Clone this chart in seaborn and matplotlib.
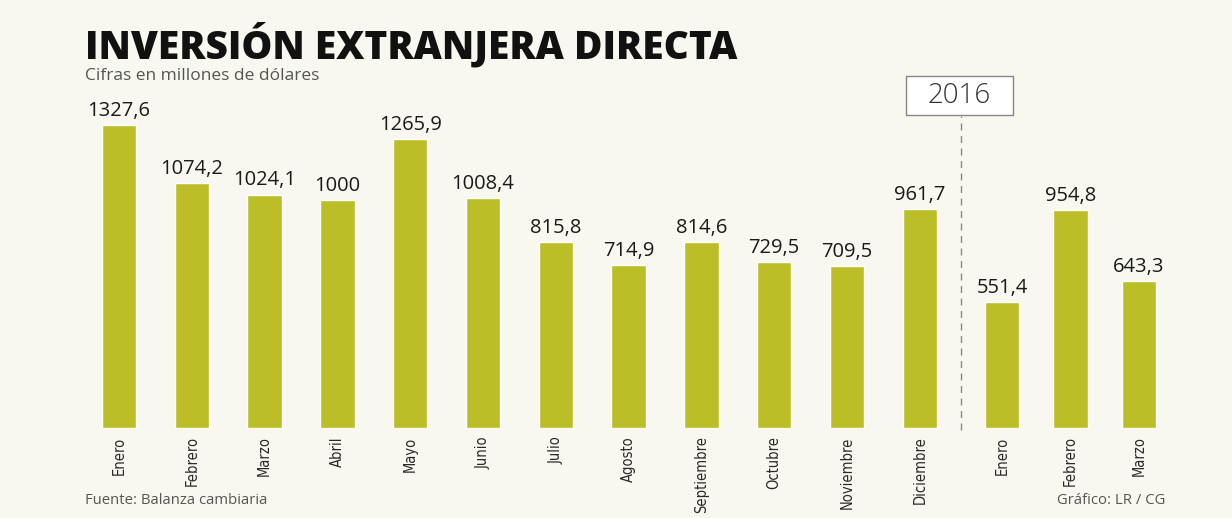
import numpy as np
import pandas as pd
import matplotlib
matplotlib.use("Agg")
import matplotlib.pyplot as plt
from matplotlib.patches import Rectangle
import seaborn as sns

# Data
meses = ["Enero", "Febrero", "Marzo", "Abril", "Mayo", "Junio", "Julio", "Agosto",
         "Septiembre", "Octubre", "Noviembre", "Diciembre", "Enero", "Febrero", "Marzo"]
valores = [1327.6, 1074.2, 1024.1, 1000, 1265.9, 1008.4, 815.8, 714.9,
           814.6, 729.5, 709.5, 961.7, 551.4, 954.8, 643.3]
etiquetas = ["1327,6", "1074,2", "1024,1", "1000", "1265,9", "1008,4", "815,8", "714,9",
             "814,6", "729,5", "709,5", "961,7", "551,4", "954,8", "643,3"]

bg = "#f8f8f0"
bar_color = "#bcbe28"

sns.set_style("white")
plt.rcParams["font.family"] = ["Open Sans", "DejaVu Sans"]

# positions: 2015 months, then a small gap before 2016
pos = np.r_[np.arange(12), 12.13 + np.arange(3) * 0.94]
df = pd.DataFrame({"pos": pos, "valor": valores})

fig = plt.figure(figsize=(12.32, 5.18), dpi=100, facecolor=bg)
ax = fig.add_axes([0, 90 / 518, 1, 428 / 518])
ax.set_facecolor(bg)

sns.barplot(data=df, x="pos", y="valor", native_scale=True, color=bar_color,
            width=0.5, saturation=1, ax=ax)

ax.set_xlim(-119 / 72.8, (1232 - 119) / 72.8)
ax.set_ylim(0, 428 / 0.228)
sns.despine(ax=ax, left=True, bottom=True)
ax.set_yticks([])
ax.set_xlabel("")
ax.set_ylabel("")

ax.set_xticks(pos)
ax.set_xticklabels(meses, rotation=90, fontsize=10.5, color="#2a2a2a",
                   family="DejaVu Sans", fontstretch="condensed", va="top")
ax.tick_params(axis="x", length=0, pad=6)

for x, v, t in zip(pos, valores, etiquetas):
    ax.text(x, v + 18, t, ha="center", va="bottom", fontsize=14.5, color="#1a1a1a")

# 2016 divider
xd = (11 + 12.13) / 2
ax.plot([xd, xd], [-10, (428 - 116) / 0.228], color="#888888", lw=1,
        ls=(0, (5, 4)), clip_on=False)
fig.patches.append(Rectangle((906 / 1232, 1 - 115 / 518), 107 / 1232, 39 / 518,
                             transform=fig.transFigure, facecolor="white",
                             edgecolor="#888888", lw=1))
fig.text(959.5 / 1232, 1 - 96 / 518, "2016", ha="center", va="center",
         fontsize=20, color="#333333", fontweight="light")

# titles
fig.text(85 / 1232, 1 - 58 / 518, "INVERSIÓN EXTRANJERA DIRECTA", ha="left", va="baseline",
         fontsize=28, fontweight="heavy", color="#111111")
fig.text(85 / 1232, 1 - 80 / 518, "Cifras en millones de dólares", ha="left", va="baseline",
         fontsize=12.5, color="#555555")
fig.text(85 / 1232, 1 - 500 / 518, "Fuente: Balanza cambiaria", ha="left", va="center",
         fontsize=10.7, color="#555555")
fig.text(1165 / 1232, 1 - 500 / 518, "Gráfico: LR / CG", ha="right", va="center",
         fontsize=10.7, color="#555555")

fig.savefig("out.png", dpi=100, facecolor=bg)
